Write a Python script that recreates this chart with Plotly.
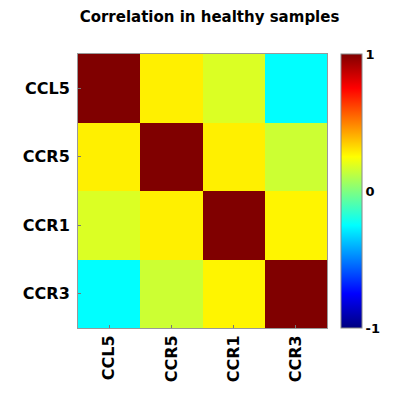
import plotly.graph_objects as go

genes = ["CCL5", "CCR5", "CCR1", "CCR3"]
corr = [
    [1.00, 0.28, 0.18, -0.25],
    [0.28, 1.00, 0.28, 0.15],
    [0.18, 0.28, 1.00, 0.27],
    [-0.25, 0.15, 0.27, 1.00],
]
title_text = "Correlation in healthy samples"
cbar_ticks = [-1, 0, 1]

jet = [
    [0.0, "rgb(0,0,128)"],
    [0.125, "rgb(0,0,255)"],
    [0.375, "rgb(0,255,255)"],
    [0.625, "rgb(255,255,0)"],
    [0.875, "rgb(255,0,0)"],
    [1.0, "rgb(128,0,0)"],
]

font_fam = "DejaVu Sans"

fig = go.Figure(
    go.Heatmap(
        z=corr,
        x=genes,
        y=genes,
        zmin=-1,
        zmax=1,
        colorscale=jet,
        colorbar=dict(
            x=1.056,
            xanchor="left",
            xpad=0,
            y=0,
            yanchor="bottom",
            ypad=0,
            len=1,
            lenmode="fraction",
            thickness=21,
            tickvals=cbar_ticks,
            ticktext=[str(t) for t in cbar_ticks],
            tickfont=dict(family=font_fam, size=13, color="black", weight="bold"),
            outlinecolor="#888",
            outlinewidth=1,
            ticks="inside",
            ticklen=0,
        ),
    )
)

fig.update_layout(
    width=403,
    height=386,
    margin=dict(l=70, r=84, t=46, b=61),
    paper_bgcolor="white",
    plot_bgcolor="white",
    title=dict(
        text=title_text,
        x=0.5,
        xanchor="center",
        y=1 - 9 / 386,
        yanchor="middle",
        font=dict(family=font_fam, size=15, color="black", weight="bold"),
    ),
)
fig.update_xaxes(
    tickangle=-90,
    tickfont=dict(family=font_fam, size=16, color="black", weight="bold"),
    showline=True, linecolor="#999", mirror=True,
    ticks="inside", ticklen=3, tickcolor="#777",
    showgrid=False,
)
fig.update_yaxes(
    autorange="reversed",
    tickfont=dict(family=font_fam, size=16, color="black", weight="bold"),
    showline=True, linecolor="#999", mirror=True,
    ticks="inside", ticklen=3, tickcolor="#777",
    showgrid=False,
    ticklabelstandoff=4,
)

fig.write_html("out.html")
